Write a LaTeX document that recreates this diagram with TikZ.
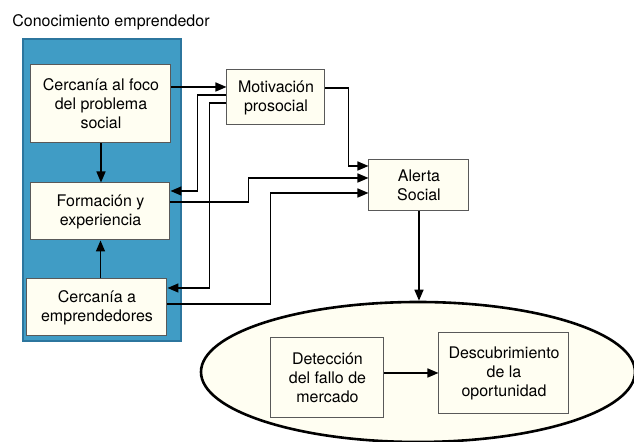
\documentclass[tikz,border=0pt]{standalone}
\usepackage{fontspec}
\setmainfont{TeX Gyre Heros}
\usetikzlibrary{shapes.geometric}
\usetikzlibrary{arrows.meta}
\usetikzlibrary{calc}
\definecolor{panelBlue}{RGB}{64,156,197}
\definecolor{panelEdge}{RGB}{44,118,158}
\definecolor{paperCream}{RGB}{255,254,242}
\begin{document}
\begin{tikzpicture}
[x=0.5pt,y=-0.5pt,%
  lineDecorate/.style={-{Triangle[length=5.5pt,width=4.5pt]},line width=0.75pt},%
  boxDecorate/.style={shape=rectangle,draw=black!65,fill=paperCream,line width=0.5pt,inner sep=0pt,align=center},%
  ovalDecorate/.style={shape=ellipse,draw=black,fill=paperCream,line width=1.3pt,inner sep=0pt},%
  font=\fontsize{8}{9.5}\selectfont]
\useasboundingbox (0,0) rectangle (634,442);
%% panel and its title
\node[anchor=west,inner sep=0pt] (title) at (12,22) {Conocimiento emprendedor};
\node[shape=rectangle,draw=panelEdge,fill=panelBlue,line width=1pt,
  minimum width=79pt,minimum height=151pt,inner sep=0pt] (panel) at (102,190) {};
%% oval of the opportunity
\node[ovalDecorate,minimum width=217pt,minimum height=70pt] (oval) at (418,372) {};
%% boxes
\foreach \nodename/\x/\y/\w/\h/\text in {
  foco/101/104/70pt/39pt/{Cercanía al foco\\del problema\\social},
  formacion/100.5/211.5/69.5pt/28.5pt/{Formación y\\experiencia},
  cercania/97/307.5/70pt/28.5pt/{Cercanía a\\emprendedores},
  motivacion/276/97.5/49pt/27.5pt/{Motivación\\prosocial},
  alerta/419/185.5/50pt/25.5pt/{Alerta\\Social},
  deteccion/327.5/378/56.5pt/40pt/{Detección\\del fallo de\\mercado},
  descubrimiento/504/373.5/65pt/40.5pt/{Descubrimiento\\de la\\oportunidad}}
{
  \node[boxDecorate,minimum width=\w,minimum height=\h] (\nodename) at (\x,\y) {\text};
}
%% connect the boxes
\draw[lineDecorate] (foco.south) -- (foco.south |- formacion.north);
\draw[lineDecorate] (formacion.south |- cercania.north) -- (formacion.south);
\draw[lineDecorate] ($(foco.east)+(0,-17)$) -- ($(motivacion.west)+(0,-10.5)$);
\draw[lineDecorate] ($(motivacion.west)+(0,-2.5)$) -- ++(-29,0) |- ($(formacion.east)+(0,-20.5)$);
\draw[lineDecorate] ($(motivacion.west)+(0,5.5)$) -- ++(-17,0) |- ($(cercania.east)+(0,-19.5)$);
\draw[lineDecorate] ($(motivacion.east)+(0,-9.5)$) -- ++(23,0) |- ($(alerta.west)+(0,-19.5)$);
\draw[lineDecorate] ($(formacion.east)+(0,-9.5)$) -- ++(78,0) |- ($(alerta.west)+(0,-7.5)$);
\draw[lineDecorate] ($(cercania.east)+(0,-3.5)$) -- ++(103,0) |- ($(alerta.west)+(0,7.5)$);
\draw[lineDecorate] (alerta.south) -- (alerta.south |- oval.north);
\draw[lineDecorate] ($(deteccion.east)+(0,-5)$) -- ($(descubrimiento.west)+(0,-0.5)$);
\end{tikzpicture}
\end{document}
